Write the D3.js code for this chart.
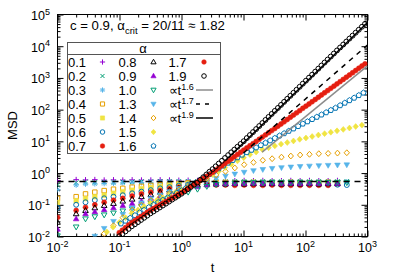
<!DOCTYPE html>
<html><head><meta charset="utf-8">
<script src="https://cdn.jsdelivr.net/npm/d3@7"></script>
<style>
body{margin:0;background:#fff}
svg{display:block;font-family:"Liberation Sans",Arial,Helvetica,sans-serif}
</style></head><body>
<svg id="c" width="399" height="279"></svg>
<script>
// ---------------- data ----------------
const alphaLabels = ["0.1","0.2","0.3","0.4","0.5","0.6","0.7","0.8","0.9","1.0","1.3","1.4","1.5","1.6","1.7","1.9"];
const xTickExp = [-2,-1,0,1,2,3];
const yTickExp = [-2,-1,0,1,2,3,4,5];
const titleText = "c = 0.9, α";
const titleSub = "crit";
const titleRest = " = 20/11 ≈ 1.82";

// time grids
const tA = [0.01,0.02,0.0283,0.04,0.0566,0.08,0.113,0.16,0.226,0.32,0.453,0.64,0.905,1.28,1.81,2.56,3.62,5.12,7.24,10.24,14.48,20.48,28.96,40.96,57.93,81.92,115.85,163.84,231.7,327.7,463.4];
const tB = [0.0625,0.0787,0.0992,0.125,0.1575,0.1984,0.25,0.315,0.3969,0.5,0.63,0.7937,1,1.26,1.587,2,2.52,3.175,4,5.04,6.35,8,10.08,12.7,16,20.16,25.4,32,40.32,50.8,64,80.63,101.6,128,161.3,203.2,256,322.5,406.4,512,645.1,812.7];
const tC = [0.1051,0.125,0.1487,0.1768,0.2102,0.25,0.2973,0.3536,0.4204,0.5,0.5946,0.7071,0.8409,1,1.189,1.414,1.682,2,2.378,2.828,3.364,4,4.757,5.657,6.727,8,9.514,11.31,13.45,16,19.03,22.63,26.91,32,38.05,45.25,53.82,64,76.11,90.51,107.6,128,152.2,181,215.3,256,304.4,362,430.5,512,608.9,724.1,861.1];
const tD = [0.0992,0.1114,0.125,0.1403,0.1575,0.1768,0.1984,0.2227,0.25,0.2806,0.315,0.3536,0.3969,0.4454,0.5,0.5612,0.63,0.7071,0.7937,0.8909,1,1.1225,1.2599,1.4142,1.5874,1.7818,2,2.245,2.52,2.828,3.175,3.564,4,4.49,5.04,5.657,6.35,7.127,8,8.98,10.08,11.31,12.7,14.25,16,17.96,20.16,22.63,25.4,28.51,32,35.92,40.32,45.25,50.8,57.02,64,71.84,80.63,90.51,101.6,114,128,143.7,161.3,181,203.2,228.1,256,287.4,322.5,362,406.4,456.1,512,574.7,645.1,724.1,812.7,912.3];

// MSD values
const msd01 = [0.58,0.62,0.61,0.62,0.6,0.61,0.6,0.61,0.6,0.6,0.61,0.6,0.59,0.59,0.58,0.58,0.57,0.58,0.57,0.58,0.57,0.58,0.57,0.57,0.58,0.57,0.58,0.57,0.57,0.58];
const msd02 = [0.42,0.5,0.52,0.51,0.52,0.52,0.53,0.53,0.54,0.54,0.55,0.55,0.55,0.55,0.55,0.54,0.55,0.54,0.55,0.55,0.54,0.55,0.55,0.54,0.55,0.55,0.54,0.55,0.55,0.54,0.55];
const msd03 = [0.3,0.42,0.45,0.46,0.47,0.48,0.49,0.5,0.5,0.51,0.52,0.52,0.53,0.53,0.53,0.53,0.52,0.53,0.53,0.52,0.53,0.53,0.52,0.53,0.53,0.52,0.53,0.53,0.52,0.53,0.53];
const msd04 = [0.16,0.18,0.22,0.25,0.28,0.31,0.33,0.36,0.38,0.41,0.43,0.45,0.47,0.49,0.5,0.5,0.5,0.51,0.5,0.5,0.51,0.5,0.5,0.5,0.51,0.5,0.5,0.5,0.51,0.5];
const msd05 = [0.12,0.135,0.156,0.18,0.2,0.23,0.26,0.29,0.32,0.35,0.38,0.41,0.44,0.46,0.48,0.48,0.49,0.48,0.48,0.49,0.48,0.48,0.49,0.48,0.48,0.48,0.49,0.48,0.48,0.48];
const msd06 = [0.08,0.1,0.12,0.14,0.16,0.18,0.2,0.23,0.26,0.29,0.33,0.36,0.4,0.43,0.45,0.46,0.46,0.45,0.46,0.45,0.45,0.46,0.45,0.45,0.44,0.45,0.44,0.44,0.43,0.43,0.42];
const msd07 = [0.04,0.066,0.083,0.1,0.12,0.14,0.16,0.19,0.22,0.25,0.28,0.32,0.36,0.4,0.42,0.43,0.42,0.42,0.41,0.42,0.41,0.41,0.42,0.41,0.41,0.41,0.41,0.41,0.41];
const msd08 = [0.028,0.052,0.066,0.08,0.095,0.11,0.13,0.15,0.18,0.21,0.25,0.29,0.33,0.38,0.42,0.44,0.45,0.45,0.46,0.45,0.46,0.45,0.46,0.45,0.46,0.45,0.46,0.45,0.46,0.46];
const msd09 = [0.017,0.036,0.052,0.06,0.07,0.08,0.095,0.11,0.13,0.16,0.19,0.23,0.27,0.32,0.37,0.42,0.45,0.46,0.47,0.47,0.48,0.47,0.48,0.47,0.48,0.47,0.48,0.47,0.48,0.47];
const msd10 = [0.0105,0.02,0.036,0.042,0.048,0.055,0.064,0.075,0.09,0.11,0.13,0.16,0.2,0.25,0.31,0.38,0.44,0.47,0.49,0.5,0.5,0.5,0.51,0.5,0.5,0.51,0.5,0.5,0.5,0.51,0.5];
const msd13 = [null,null,null,0.0102,0.018,0.03,0.05,0.08,0.115,0.155,0.2,0.26,0.33,0.41,0.49,0.58,0.68,0.8,0.93,1.06,1.19,1.3,1.4,1.48,1.55,1.61,1.66,1.71,1.75,1.79,1.82];
const msd14 = [null,null,null,null,0.0123,0.0219,0.0394,0.0682,0.0966,0.136,0.176,0.227,0.294,0.385,0.508,0.67,0.877,1.13,1.45,1.84,2.17,2.53,2.84,3.18,3.45,3.73,3.91,4.08,4.17,4.27,4.37];
const msd15 = [0.0139,0.0197,0.0279,0.0392,0.0536,0.0685,0.0875,0.112,0.136,0.166,0.203,0.248,0.302,0.37,0.454,0.564,0.71,0.895,1.15,1.49,1.9,2.42,3.04,3.83,4.6,5.52,6.3,7.18,8.18,9.18,10.3,11.6,12.8,14.2,15.8,17.5,19.4,21.5,23.8,26.3,29.3,32.5];
const msd16 = [0.0255,0.0312,0.0382,0.0464,0.0564,0.0685,0.0832,0.0995,0.119,0.141,0.167,0.199,0.237,0.282,0.34,0.41,0.494,0.604,0.743,0.916,1.13,1.39,1.71,2.1,2.55,3.1,3.76,4.5,5.35,6.34,7.52,8.93,10.6,12.6,15.0,17.8,21.2,25.2,29.9,35.8,42.2,49.8,58.6,69.2,81.5,96.1,113,136,163,196,235,283,340];
const msd17 = [0.0132,0.0158,0.019,0.0229,0.0272,0.0316,0.0369,0.0428,0.0498,0.0578,0.0671,0.0764,0.0869,0.0986,0.112,0.127,0.144,0.164,0.186,0.211,0.24,0.278,0.322,0.374,0.434,0.502,0.582,0.675,0.782,0.91,1.05,1.24,1.46,1.71,2.01,2.37,2.78,3.27,3.84,4.51,5.3,6.21,7.26,8.49,9.93,11.6,13.6,16.0,18.7,21.8,25.5,30.0,35.2,41.5,48.8,57.3,67.3,79.1,92.9,110,129,151,178,209,245,289,340,399,469,551,650,764,897,1054,1239,1455,1714,2014,2366,2780];
const msd19 = [0.0102,0.012,0.0145,0.0174,0.021,0.0243,0.0284,0.0333,0.039,0.0457,0.0537,0.0616,0.0713,0.0822,0.0948,0.109,0.126,0.146,0.168,0.194,0.224,0.263,0.309,0.364,0.428,0.5,0.61,0.74,0.9,1.1,1.33,1.63,2.0,2.44,2.99,3.67,4.5,5.5,6.75,8.26,10.1,12.7,15.8,19.6,24.4,30.4,37.8,47.2,58.8,73.2,91.2,113,141,176,219,273,340,423,526,658,818,1019,1268,1578,1963,2455,3055,3802,4732,5890,7362,9120,11300,14000,17400,21500,26700,33100,41000,50800];

// reference power laws (end points) and plateau level
const ref16T = [20, 1000], ref16Y = [4.6, 2400];
const ref17T = [10, 1000], ref17Y = [4.3, 10900];
const ref19T = [5, 1000],  ref19Y = [2.39, 56000];
const plateauT = [0.01, 1000], plateauY = [0.545, 0.545];
const refLabels = ["1.6","1.7","1.9"];

// ---------------- styling ----------------
const C = {purple:"#9400d3",green:"#009e73",lblue:"#56b4e9",orange:"#e69f00",yellow:"#f0e442",blue:"#0072b2",red:"#e51e10",black:"#000000"};
const styleByLabel = {
 "0.1":["plus",C.purple],"0.2":["cross",C.green],"0.3":["star",C.lblue],"0.4":["square",C.orange,false],
 "0.5":["square",C.yellow,true],"0.6":["circle",C.blue,false],"0.7":["circle",C.red,true],"0.8":["triUp",C.black,false],
 "0.9":["triUp",C.purple,true],"1.0":["triDown",C.green,false],"1.3":["triDown",C.lblue,true],"1.4":["diamond",C.orange,false],
 "1.5":["diamond",C.yellow,true],"1.6":["pentagon",C.blue,false],"1.7":["circle",C.red,true],"1.9":["circle",C.black,false]
};
const seriesData = [
 [tA,msd01],[tA,msd02],[tA,msd03],[tA,msd04],[tA,msd05],[tA,msd06],[tA,msd07],[tA,msd08],
 [tA,msd09],[tA,msd10],[tA,msd13],[tA,msd14],[tB,msd15],[tC,msd16],[tD,msd17],[tD,msd19]
];

// ---------------- layout ----------------
const L=57.5,R=367.5,T=14.5,B=236.5;
const x=d3.scaleLog().domain([0.01,1000]).range([L,R]);
const y=d3.scaleLog().domain([0.01,1e5]).range([B,T]);
const svg=d3.select("#c");

svg.append("defs").append("clipPath").attr("id","clip")
  .append("rect").attr("x",L).attr("y",T).attr("width",R-L).attr("height",B-T);

function sym(shape,h){
  const a=h*0.8;
  switch(shape){
    case "plus": return `M${-h},0H${h}M0,${-h}V${h}`;
    case "cross": {const c=h*0.78; return `M${-c},${-c}L${c},${c}M${-c},${c}L${c},${-c}`;}
    case "star": {const c=h*0.72; return `M${-h},0H${h}M0,${-h}V${h}M${-c},${-c}L${c},${c}M${-c},${c}L${c},${-c}`;}
    case "square": return `M${-a},${-a}H${a}V${a}H${-a}Z`;
    case "circle": {const r=h*0.88; return `M${r},0A${r},${r} 0 1,1 ${-r},0A${r},${r} 0 1,1 ${r},0Z`;}
    case "triUp": return `M0,${-h*1.05}L${h},${h*0.7}L${-h},${h*0.7}Z`;
    case "triDown": return `M0,${h*1.05}L${h},${-h*0.7}L${-h},${-h*0.7}Z`;
    case "diamond": return `M0,${-h*1.05}L${h*0.95},0L0,${h*1.05}L${-h*0.95},0Z`;
    case "pentagon": {
      let p=[]; for(let i=0;i<5;i++){const ang=-Math.PI/2+i*2*Math.PI/5; p.push([h*Math.cos(ang),h*Math.sin(ang)]);}
      return "M"+p.map(q=>q[0].toFixed(2)+","+q[1].toFixed(2)).join("L")+"Z";
    }
  }
}
function drawMarker(g,label,cx,cy,h){
  const [shape,color,filled]=styleByLabel[label];
  const p=g.append("path").attr("d",sym(shape,h)).attr("transform",`translate(${cx},${cy})`);
  if(shape==="plus"||shape==="cross"||shape==="star"){
    p.attr("fill","none").attr("stroke",color).attr("stroke-width",1);
  } else if(filled){
    p.attr("fill",color).attr("stroke",color).attr("stroke-width",0.6);
  } else {
    p.attr("fill","none").attr("stroke",color).attr("stroke-width",1);
  }
}

// ---------------- axes ----------------
const xMajor = xTickExp.map(e=>Math.pow(10,e));
const yMajor = yTickExp.map(e=>Math.pow(10,e));
const isPow = v=>Math.abs(Math.log10(v)-Math.round(Math.log10(v)))<1e-9;
const xMinor = x.ticks().filter(v=>!isPow(v));
const yMinor = y.ticks().filter(v=>!isPow(v));

function axisG(axis,tx,ty){
  const g=svg.append("g").attr("transform",`translate(${tx},${ty})`).call(axis);
  g.select(".domain").remove();
  g.selectAll("text").remove();
  g.selectAll("line").attr("stroke","#000").attr("stroke-width",1);
  return g;
}
axisG(d3.axisBottom(x).tickValues(xMajor).tickSize(-6).tickSizeOuter(0),0,B);
axisG(d3.axisBottom(x).tickValues(xMinor).tickSize(-3).tickSizeOuter(0),0,B);
axisG(d3.axisTop(x).tickValues(xMajor).tickSize(-6).tickSizeOuter(0),0,T);
axisG(d3.axisTop(x).tickValues(xMinor).tickSize(-3).tickSizeOuter(0),0,T);
axisG(d3.axisLeft(y).tickValues(yMajor).tickSize(-6).tickSizeOuter(0),L,0);
axisG(d3.axisLeft(y).tickValues(yMinor).tickSize(-3).tickSizeOuter(0),L,0);
axisG(d3.axisRight(y).tickValues(yMajor).tickSize(-6).tickSizeOuter(0),R,0);
axisG(d3.axisRight(y).tickValues(yMinor).tickSize(-3).tickSizeOuter(0),R,0);

svg.append("rect").attr("x",L).attr("y",T).attr("width",R-L).attr("height",B-T)
  .attr("fill","none").attr("stroke","#000").attr("stroke-width",1);

// tick labels
xTickExp.forEach(e=>{
  const t=svg.append("text").attr("x",x(Math.pow(10,e))).attr("y",252).attr("text-anchor","middle").attr("font-size",12.5);
  t.append("tspan").text("10");
  t.append("tspan").attr("dy",-5.5).attr("font-size",9).text(String(e));
});
yTickExp.forEach(e=>{
  const t=svg.append("text").attr("x",50).attr("y",y(Math.pow(10,e))+5.5).attr("text-anchor","end").attr("font-size",12.5);
  t.append("tspan").text("10");
  t.append("tspan").attr("dy",-5.5).attr("font-size",9).text(String(e));
});

// axis titles
svg.append("text").attr("x",212.5).attr("y",272).attr("text-anchor","middle").attr("font-size",13).text("t");
svg.append("text").attr("transform","translate(17,125.5) rotate(-90)").attr("text-anchor","middle").attr("font-size",13).text("MSD");

// title
const tt=svg.append("text").attr("x",70).attr("y",30).attr("font-size",13.2);
tt.append("tspan").text(titleText);
tt.append("tspan").attr("dy",3.5).attr("font-size",9.5).text(titleSub);
tt.append("tspan").attr("dy",-3.5).text(titleRest);

// ---------------- data marks ----------------
const plotG=svg.append("g").attr("clip-path","url(#clip)");
alphaLabels.forEach((lab,i)=>{
  const [ts,vs]=seriesData[i];
  const g=plotG.append("g");
  vs.forEach((v,j)=>{
    const t=ts[j];
    if(v==null||t==null) return;
    if(v<0.0099||v>1e5||t<0.0099||t>1001) return;
    drawMarker(g,lab,x(t),y(v),2.8);
  });
});

const line=d3.line().x(d=>x(d[0])).y(d=>y(d[1]));
const zip=(a,b)=>a.map((v,i)=>[v,b[i]]);
plotG.append("path").attr("d",line(zip(ref16T,ref16Y))).attr("fill","none").attr("stroke","#8c8c8c").attr("stroke-width",1.5);
plotG.append("path").attr("d",line(zip(ref17T,ref17Y))).attr("fill","none").attr("stroke","#000").attr("stroke-width",1.5).attr("stroke-dasharray","5,5");
plotG.append("path").attr("d",line(zip(ref19T,ref19Y))).attr("fill","none").attr("stroke","#000").attr("stroke-width",1.5);
plotG.append("path").attr("d",line(zip(plateauT,plateauY))).attr("fill","none").attr("stroke","#000").attr("stroke-width",1.6).attr("stroke-dasharray","6,5");

// ---------------- legend ----------------
const lg=svg.append("g");
lg.append("rect").attr("x",67.5).attr("y",42.5).attr("width",153).attr("height",111)
  .attr("fill","#fff").attr("stroke","#555").attr("stroke-width",1);
lg.append("line").attr("x1",67.5).attr("x2",220.5).attr("y1",54.5).attr("y2",54.5).attr("stroke","#555").attr("stroke-width",1);
lg.append("text").attr("x",143).attr("y",52.5).attr("text-anchor","middle").attr("font-size",13).text("α");
const colText=[68,118.5,168.5], colMark=[102.5,153.5,204];
const rowY=i=>66.5+14*i;
alphaLabels.forEach((lab,i)=>{
  const c=Math.floor(i/7), r=i%7;
  lg.append("text").attr("x",colText[c]).attr("y",rowY(r)).attr("font-size",13).text(lab);
  drawMarker(lg,lab,colMark[c],rowY(r)-4.5,2.6);
});
const refStyles=[["#8c8c8c",null],["#000","4,5"],["#000",null]];
refLabels.forEach((lab,k)=>{
  const r=2+k;
  const t=lg.append("text").attr("x",colText[2]).attr("y",rowY(r)).attr("font-size",13);
  t.append("tspan").text("∝t");
  t.append("tspan").attr("dy",-4.5).attr("font-size",9).text(lab);
  const ln=lg.append("line").attr("x1",196).attr("x2",213).attr("y1",rowY(r)-4.5).attr("y2",rowY(r)-4.5)
    .attr("stroke",refStyles[k][0]).attr("stroke-width",1.5);
  if(refStyles[k][1]) ln.attr("stroke-dasharray",refStyles[k][1]);
});
</script>
</body></html>
